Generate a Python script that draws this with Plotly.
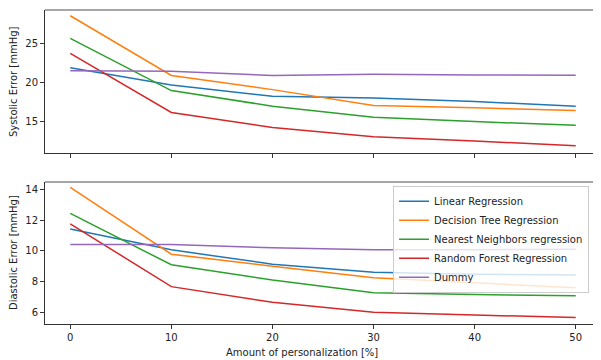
import plotly.graph_objects as go

x_vals = [0, 10, 20, 30, 40, 50]
series_names = ["Linear Regression", "Decision Tree Regression",
                "Nearest Neighbors regression", "Random Forest Regression", "Dummy"]
colors = ["#1f77b4", "#ff7f0e", "#2ca02c", "#d62728", "#9467bd"]

systolic = {
    "Linear Regression": [21.86, 19.7, 18.26, 18.05, 17.6, 16.98],
    "Decision Tree Regression": [28.47, 20.9, 19.1, 17.1, 16.8, 16.44],
    "Nearest Neighbors regression": [25.6, 18.98, 17.0, 15.6, 15.04, 14.58],
    "Random Forest Regression": [23.7, 16.2, 14.3, 13.13, 12.58, 11.98],
    "Dummy": [21.48, 21.44, 20.9, 21.05, 20.97, 20.93],
}
diastolic = {
    "Linear Regression": [11.42, 10.06, 9.13, 8.6, 8.47, 8.43],
    "Decision Tree Regression": [14.12, 9.78, 9.0, 8.25, 7.92, 7.59],
    "Nearest Neighbors regression": [12.43, 9.09, 8.1, 7.27, 7.16, 7.07],
    "Random Forest Regression": [11.75, 7.67, 6.65, 6.0, 5.82, 5.67],
    "Dummy": [10.41, 10.4, 10.2, 10.06, 10.07, 10.1],
}
x_ticks = [0, 10, 20, 30, 40, 50]

fig = go.Figure()
for name, c in zip(series_names, colors):
    fig.add_trace(go.Scatter(x=x_vals, y=systolic[name], mode="lines", name=name,
                             line=dict(color=c, width=1.5), showlegend=False,
                             xaxis="x", yaxis="y"))
for name, c in zip(series_names, colors):
    fig.add_trace(go.Scatter(x=x_vals, y=diastolic[name], mode="lines", name=name,
                             line=dict(color=c, width=1.5), showlegend=True,
                             xaxis="x2", yaxis="y2"))

font = dict(family="DejaVu Sans", size=10, color="#222")
axis_common = dict(showgrid=False, zeroline=False, showline=True, linecolor="#333",
                   linewidth=1, ticks="outside", ticklen=4, tickcolor="#333",
                   tickfont=font, automargin=False)

# page body has an 8px margin, so the figure is 8px smaller and margins shifted
fig.update_layout(
    width=593, height=352,
    margin=dict(l=37, r=0, t=2, b=36),
    paper_bgcolor="white", plot_bgcolor="white",
    font=font,
    xaxis=dict(domain=[0, 1], anchor="y", range=[-2.5, 52.5], tickvals=x_ticks,
               showticklabels=False, **axis_common),
    yaxis=dict(domain=[0.5446, 1], anchor="x", range=[11.06, 29.2],
               tickvals=[15, 20, 25], **axis_common),
    xaxis2=dict(domain=[0, 1], anchor="y2", range=[-2.5, 52.5], tickvals=x_ticks,
                **axis_common),
    yaxis2=dict(domain=[0, 0.4522], anchor="x2", range=[5.24, 14.47],
                tickvals=[6, 8, 10, 12, 14], **axis_common),
    legend=dict(x=0.626, xanchor="left", y=0.44, yanchor="top",
                bgcolor="rgba(255,255,255,0.8)", bordercolor="#ccc", borderwidth=1,
                font=dict(family="DejaVu Sans", size=10, color="#222"),
                tracegroupgap=0),
    annotations=[
        dict(text="Systolic Error [mmHg]", xref="paper", yref="paper",
             x=-31 / 556, y=(324 - 82) / 314, textangle=-90,
             showarrow=False, font=font, xanchor="center", yanchor="middle"),
        dict(text="Diastolic Error [mmHg]", xref="paper", yref="paper",
             x=-31 / 556, y=(324 - 253) / 314, textangle=-90,
             showarrow=False, font=font, xanchor="center", yanchor="middle"),
        dict(text="Amount of personalization [%]", xref="paper", yref="paper",
             x=(302 - 45) / 556, y=-(352 - 324) / 314, showarrow=False, font=font,
             xanchor="center", yanchor="middle"),
    ],
    shapes=[
        dict(type="line", xref="paper", yref="paper", x0=0, x1=1, y0=1, y1=1,
             line=dict(color="#888", width=1.5)),
        dict(type="line", xref="paper", yref="paper", x0=0, x1=1, y0=0.4522, y1=0.4522,
             line=dict(color="#888", width=1.5)),
    ],
)

fig.write_html("out.html")
